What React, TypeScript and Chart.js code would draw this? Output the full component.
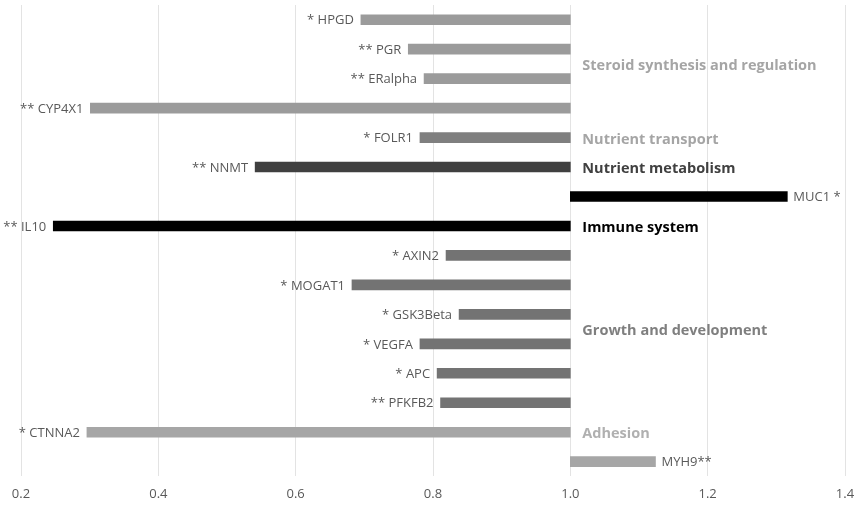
import React, { useEffect, useRef } from "react";
import { Chart, registerables } from "chart.js";

Chart.register(...registerables);

const genes = ["HPGD", "PGR", "ERalpha", "CYP4X1", "FOLR1", "NNMT", "MUC1", "IL10", "AXIN2", "MOGAT1", "GSK3Beta", "VEGFA", "APC", "PFKFB2", "CTNNA2", "MYH9"];
const geneLabels = ["* HPGD", "** PGR", "** ERalpha", "** CYP4X1", "* FOLR1", "** NNMT", "MUC1 *", "** IL10", "* AXIN2", "* MOGAT1", "* GSK3Beta", "* VEGFA", "* APC", "** PFKFB2", "* CTNNA2", "MYH9**"];
const foldChange = [0.695, 0.764, 0.787, 0.301, 0.781, 0.541, 1.316, 0.247, 0.819, 0.682, 0.838, 0.781, 0.806, 0.811, 0.296, 1.124];
const baseline = 1.0;
const barColors = ["#9b9b9b", "#9b9b9b", "#9b9b9b", "#9b9b9b", "#7f7f7f", "#404040", "#000000", "#000000", "#737373", "#737373", "#737373", "#737373", "#737373", "#737373", "#a6a6a6", "#a6a6a6"];

const groupNames = ["Steroid synthesis and regulation", "Nutrient transport", "Nutrient metabolism", "Immune system", "Growth and development", "Adhesion"];
const groupFirstRow = [0, 4, 5, 7, 8, 14];
const groupLastRow = [3, 4, 5, 7, 13, 14];
const groupColors = ["#a5a5a5", "#a5a5a5", "#404040", "#000000", "#7f7f7f", "#b0b0b0"];

const xTicks = [0.2, 0.4, 0.6, 0.8, 1.0, 1.2, 1.4];

const labelPlugin = {
  id: "labels",
  afterDatasetsDraw(chart: any) {
    const ctx = chart.ctx;
    const meta = chart.getDatasetMeta(0);
    ctx.save();
    ctx.font = "13px 'Open Sans'";
    ctx.fillStyle = "#595959";
    ctx.textBaseline = "middle";
    meta.data.forEach((el: any, i: number) => {
      const left = Math.min(el.x, el.base);
      const right = Math.max(el.x, el.base);
      if (foldChange[i] < baseline) {
        ctx.textAlign = "right";
        ctx.fillText(geneLabels[i], left - 7, el.y + 1);
      } else {
        ctx.textAlign = "left";
        ctx.fillText(geneLabels[i], right + 6, el.y + 1);
      }
    });
    const xs = chart.scales.x;
    const x0 = xs.getPixelForValue(baseline) + 12;
    ctx.font = "bold 14.5px 'Open Sans'";
    ctx.textAlign = "left";
    groupNames.forEach((g, k) => {
      const y = (meta.data[groupFirstRow[k]].y + meta.data[groupLastRow[k]].y) / 2;
      ctx.fillStyle = groupColors[k];
      ctx.fillText(g, x0, y + 2);
    });
    ctx.restore();
  },
};

export default function App() {
  const ref = useRef<HTMLCanvasElement>(null);
  useEffect(() => {
    Chart.defaults.font.family = "'Open Sans'";
    const chart = new Chart(ref.current!, {
      type: "bar",
      data: {
        labels: genes,
        datasets: [
          {
            data: foldChange.map((v) => [baseline, v]) as any,
            backgroundColor: barColors,
            borderWidth: 0,
            barThickness: 10,
          },
        ],
      },
      options: {
        indexAxis: "y",
        responsive: false,
        animation: false,
        layout: { padding: { left: 21, right: 11, top: 5, bottom: -7 } },
        plugins: { legend: { display: false }, tooltip: { enabled: false } },
        scales: {
          x: {
            type: "linear",
            min: 0.2,
            max: 1.4,
            afterBuildTicks: (axis: any) => {
              axis.ticks = xTicks.map((v) => ({ value: v }));
            },
            afterFit: (axis: any) => {
              axis.paddingLeft = 0;
              axis.paddingRight = 0;
            },
            ticks: {
              color: "#595959",
              font: { size: 13 },
              padding: 10,
              callback: (v: any) => Number(v).toFixed(1),
            },
            grid: { color: "#e3e3e3", drawTicks: false },
            border: { display: false },
          },
          y: {
            type: "category",
            display: false,
            offset: true,
            grid: { display: false },
          },
        },
      },
      plugins: [labelPlugin],
    });
    return () => chart.destroy();
  }, []);
  return (
    <div style={{ position: "fixed", left: 0, top: 0, width: 856, height: 505, background: "#fff" }}>
      <canvas ref={ref} width={856} height={505} />
    </div>
  );
}
